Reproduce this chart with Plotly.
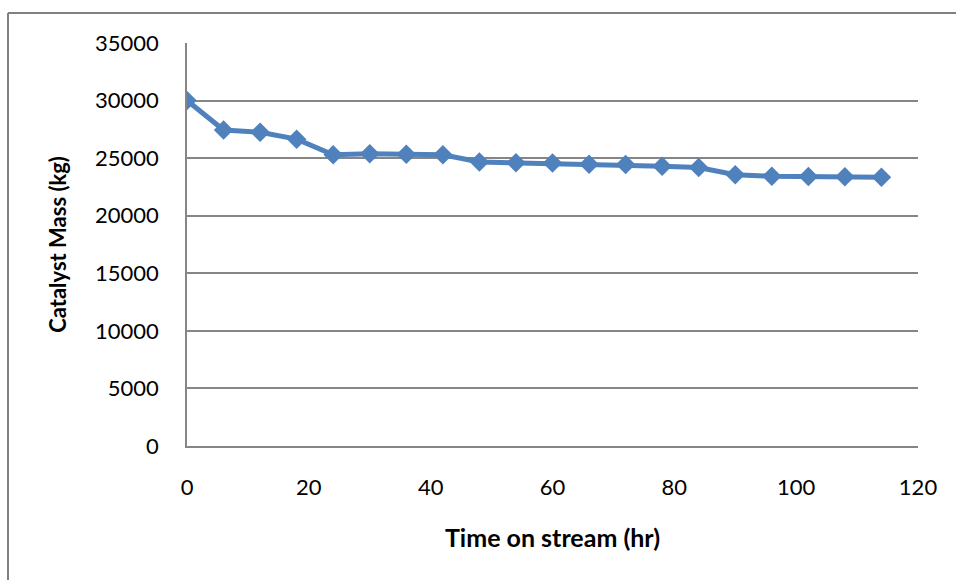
import plotly.graph_objects as go

time_hr = [0, 6, 12, 18, 24, 30, 36, 42, 48, 54, 60, 66, 72, 78, 84, 90, 96, 102, 108, 114]
catalyst_mass_kg = [30000, 27450, 27250, 26650, 25300, 25380, 25330, 25300, 24660, 24600, 24570,
                    24480, 24440, 24300, 24190, 23560, 23430, 23400, 23380, 23350]

x_ticks = [0, 20, 40, 60, 80, 100, 120]
y_ticks = [0, 5000, 10000, 15000, 20000, 25000, 30000, 35000]
y_tick_labels = ["0", "5000", "10000", "15000", "20000", "25000", "30000", "35000"]

BLUE = "#4F81BD"
GRID = "#868686"
FONT = "Lato"

fig = go.Figure()
fig.add_trace(go.Scatter(
    x=time_hr, y=catalyst_mass_kg, mode="lines+markers",
    line=dict(color=BLUE, width=5),
    marker=dict(symbol="diamond", size=15, color=BLUE),
    showlegend=False,
))

fig.update_layout(
    width=956, height=580,
    margin=dict(l=187, r=38, t=43, b=134),
    paper_bgcolor="white", plot_bgcolor="white",
    font=dict(family=FONT, size=22, color="black"),
    xaxis=dict(
        range=[0, 120], tickvals=x_ticks, showgrid=False, zeroline=False,
        showline=True, linecolor=GRID, linewidth=1.5,
        ticks="outside", ticklen=21, tickcolor="rgba(0,0,0,0)",
        title=dict(text="<b>Time on stream (hr)</b>", standoff=30,
                   font=dict(family=FONT, size=25)),
    ),
    yaxis=dict(
        range=[0, 35000], tickvals=y_ticks, ticktext=y_tick_labels,
        showgrid=True, gridcolor=GRID, gridwidth=1.5,
        zeroline=False, showline=True, linecolor=GRID, linewidth=1.5,
        ticks="outside", ticklen=22, tickcolor="rgba(0,0,0,0)",
        title=dict(text="<b>Catalyst Mass (kg)</b>", standoff=22,
                   font=dict(family=FONT, size=22)),
    ),
    shapes=[
        dict(type="line", xref="paper", yref="paper",
             x0=(8 - 187) / 731, x1=(960 - 187) / 731,
             y0=(446 - 13) / 403, y1=(446 - 13) / 403,
             line=dict(color="#808080", width=2)),
        dict(type="line", xref="paper", yref="paper",
             x0=(8 - 187) / 731, x1=(8 - 187) / 731,
             y0=(446 - 13) / 403, y1=(446 - 600) / 403,
             line=dict(color="#808080", width=2)),
    ],
)

fig.write_html("out.html", config={"displayModeBar": False},
               post_script="document.body.style.margin='0';")
